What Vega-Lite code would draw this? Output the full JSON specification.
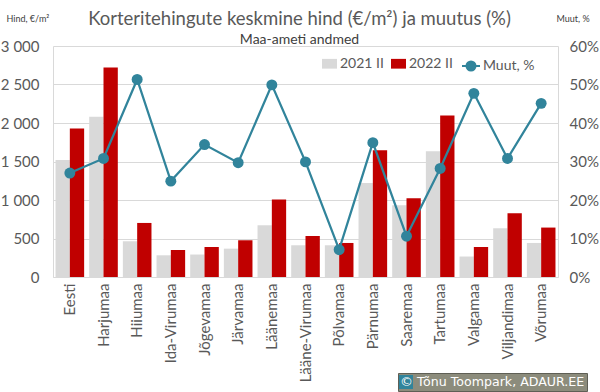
{
  "$schema": "https://vega.github.io/schema/vega-lite/v6.json",
  "width": 505,
  "height": 231,
  "autosize": {"type": "none"},
  "padding": {"left": 53, "top": 46, "right": 42, "bottom": 115},
  "background": "white",
  "config": {
    "font": "Lato",
    "view": {"stroke": null},
    "axis": {
      "gridColor": "#d9d9d9",
      "domainColor": "#d9d9d9",
      "ticks": false,
      "labelColor": "#595959",
      "labelFontSize": 15,
      "labelFont": "Lato"
    }
  },
  "title": {
    "text": "Korteritehingute keskmine hind (€/m²) ja muutus (%)",
    "subtitle": "Maa-ameti andmed",
    "fontSize": 18.5,
    "fontWeight": "normal",
    "color": "#595959",
    "subtitleFontSize": 14,
    "subtitleColor": "#404040",
    "subtitlePadding": 5,
    "offset": -4,
    "anchor": "middle",
    "dx": -6,
    "dy": 29
  },
  "data": {
    "values": [
      {"region": "Eesti", "2021 II": 1520, "2022 II": 1930, "muut": 0.270},
      {"region": "Harjumaa", "2021 II": 2080, "2022 II": 2720, "muut": 0.308},
      {"region": "Hiiumaa", "2021 II": 464, "2022 II": 702, "muut": 0.513},
      {"region": "Ida-Virumaa", "2021 II": 282, "2022 II": 351, "muut": 0.249},
      {"region": "Jõgevamaa", "2021 II": 292, "2022 II": 390, "muut": 0.344},
      {"region": "Järvamaa", "2021 II": 368, "2022 II": 477, "muut": 0.297},
      {"region": "Läänemaa", "2021 II": 672, "2022 II": 1006, "muut": 0.499},
      {"region": "Lääne-Virumaa", "2021 II": 412, "2022 II": 533, "muut": 0.299},
      {"region": "Põlvamaa", "2021 II": 412, "2022 II": 442, "muut": 0.071},
      {"region": "Pärnumaa", "2021 II": 1222, "2022 II": 1647, "muut": 0.349},
      {"region": "Saaremaa", "2021 II": 932, "2022 II": 1023, "muut": 0.106},
      {"region": "Tartumaa", "2021 II": 1634, "2022 II": 2098, "muut": 0.282},
      {"region": "Valgamaa", "2021 II": 266, "2022 II": 390, "muut": 0.477},
      {"region": "Viljandimaa", "2021 II": 633, "2022 II": 828, "muut": 0.308},
      {"region": "Võrumaa", "2021 II": 442, "2022 II": 642, "muut": 0.451}
    ]
  },
  "encoding": {
    "x": {
      "field": "region",
      "type": "nominal",
      "sort": null,
      "scale": {"paddingInner": 0.15, "paddingOuter": 0.075},
      "axis": {"title": null, "labelAngle": -90, "labelPadding": 6, "domainColor": "#d9d9d9"}
    }
  },
  "layer": [
    {
      "transform": [{"fold": ["2021 II", "2022 II"], "as": ["series", "price"]}],
      "mark": {"type": "bar"},
      "encoding": {
        "xOffset": {"field": "series", "type": "nominal"},
        "y": {
          "field": "price",
          "type": "quantitative",
          "scale": {"domain": [0, 3000]},
          "axis": {
            "values": [0, 500, 1000, 1500, 2000, 2500, 3000],
            "labelExpr": "replace(format(datum.value, ','), ',', ' ')",
            "labelPadding": 14,
            "title": "Hind, €/m²",
            "titleAngle": 0,
            "titleAlign": "left",
            "titleBaseline": "middle",
            "titleX": -47,
            "titleY": -28,
            "titleFontSize": 9,
            "titleFontWeight": "normal",
            "titleColor": "#404040"
          }
        },
        "color": {
          "field": "series",
          "type": "nominal",
          "scale": {"domain": ["2021 II", "2022 II"], "range": ["#d9d9d9", "#c00000"]},
          "legend": {
            "orient": "none",
            "legendX": 269,
            "legendY": 10,
            "direction": "horizontal",
            "title": null,
            "padding": 0,
            "symbolType": "M-1,-0.65H1V0.65H-1Z",
            "symbolSize": 225,
            "symbolStrokeWidth": 0,
            "labelFontSize": 14,
            "labelColor": "#595959",
            "labelOffset": 3,
            "columnPadding": 7
          }
        }
      }
    },
    {
      "encoding": {
        "y": {
          "field": "muut",
          "type": "quantitative",
          "scale": {"domain": [0, 0.6]},
          "axis": {
            "orient": "right",
            "values": [0, 0.1, 0.2, 0.3, 0.4, 0.5, 0.6],
            "format": ".0%",
            "grid": false,
            "labelPadding": 11,
            "title": "Muut, %",
            "titleAngle": 0,
            "titleAlign": "left",
            "titleBaseline": "middle",
            "titleX": -2,
            "titleY": -28,
            "titleFontSize": 9,
            "titleFontWeight": "normal",
            "titleColor": "#404040"
          }
        }
      },
      "layer": [
        {
          "mark": {"type": "line", "strokeWidth": 2.25},
          "encoding": {
            "stroke": {
              "datum": "Muut, %",
              "scale": {"range": ["#31849b"]},
              "legend": {
                "orient": "none",
                "legendX": 408,
                "legendY": 10,
                "title": null,
                "padding": 0,
                "symbolType": "M-1,0H1M0.5,0A0.5,0.5,0,1,1,-0.5,0A0.5,0.5,0,1,1,0.5,0Z",
                "symbolSize": 324,
                "symbolStrokeWidth": 2,
                "symbolFillColor": "#31849b",
                "labelFontSize": 14,
                "labelColor": "#595959",
                "labelOffset": 2
              }
            }
          }
        },
        {
          "mark": {"type": "point", "filled": true, "size": 120, "color": "#31849b", "opacity": 1},
          "encoding": {
            "opacity": {
              "datum": "Tõnu Toompark, ADAUR.EE",
              "type": "ordinal",
              "scale": {"range": [1]},
              "legend": {
                "orient": "none",
                "legendX": 345,
                "legendY": 327,
                "title": "©",
                "titleOrient": "left",
                "titlePadding": -14,
                "titleColor": "white",
                "titleFontSize": 13,
                "titleFont": "DejaVu Sans",
                "titleFontWeight": "normal",
                "titleBaseline": "middle",
                "padding": 2,
                "fillColor": "#8c8c7c",
                "strokeColor": "#5f5f55",
                "symbolType": "square",
                "symbolSize": 196,
                "symbolFillColor": "#f47a20",
                "symbolStrokeWidth": 0,
                "symbolOpacity": 1,
                "labelColor": "white",
                "labelFont": "DejaVu Sans",
                "labelFontSize": 12.6,
                "labelLimit": 400,
                "labelOffset": 4
              }
            }
          }
        }
      ]
    }
  ],
  "resolve": {"scale": {"y": "independent"}}
}
